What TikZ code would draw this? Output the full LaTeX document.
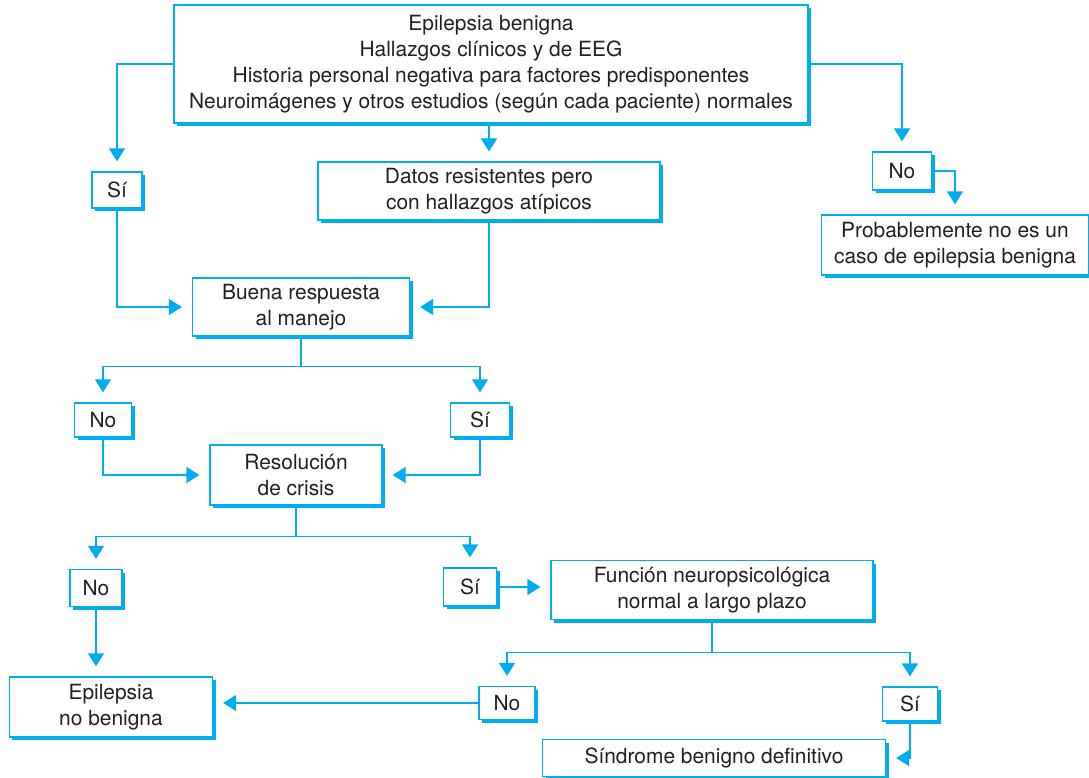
\documentclass[tikz,border=0pt]{standalone}
\usepackage{fontspec}
\setmainfont{TeX Gyre Heros}
\usetikzlibrary{arrows.meta,shadows}

\definecolor{flowcyan}{RGB}{0,174,239}
\definecolor{flowtext}{RGB}{35,31,32}

\tikzset{
  box/.style={draw=flowcyan, line width=1.3bp, fill=white, align=center,
    inner sep=0pt, text=flowtext, font=\fontsize{21}{26}\selectfont,
    drop shadow={shadow xshift=3bp, shadow yshift=-3bp, fill=flowcyan, opacity=1}},
  wire/.style={draw=flowcyan, line width=1.3bp},
  link/.style={wire, -{Triangle[width=16bp,length=13bp]}, shorten >=10bp}
}

\begin{document}
\begin{tikzpicture}[x=1bp,y=-1bp]
    \useasboundingbox (0,0) rectangle (1089,778);

    % boxes
    \node[box, minimum width=634bp, minimum height=118bp] (main) at (491,64)
      {Epilepsia benigna\\Hallazgos clínicos y de EEG\\Historia personal negativa para factores predisponentes\\Neuroimágenes y otros estudios (según cada paciente) normales};
    \node[box, minimum width=50bp, minimum height=36bp] (si1) at (117,190) {Sí};
    \node[box, minimum width=342bp, minimum height=58bp] (datos) at (489,191) {Datos resistentes pero\\con hallazgos atípicos};
    \node[box, minimum width=59bp, minimum height=38bp] (no1) at (902,171) {No};
    \node[box, minimum width=267bp, minimum height=60bp] (prob) at (955,245) {Probablemente no es un\\caso de epilepsia benigna};
    \node[box, minimum width=217bp, minimum height=58bp] (buena) at (301,307) {Buena respuesta\\al manejo};
    \node[box, minimum width=57bp, minimum height=34bp] (no2) at (103,420) {No};
    \node[box, minimum width=59bp, minimum height=34bp] (si2) at (480,420) {Sí};
    \node[box, minimum width=172bp, minimum height=60bp] (res) at (296,475) {Resolución\\de crisis};
    \node[box, minimum width=52bp, minimum height=37bp] (no3) at (96,588) {No};
    \node[box, minimum width=53bp, minimum height=38bp] (si3) at (470,587) {Sí};
    \node[box, minimum width=322bp, minimum height=59bp] (func) at (712,590) {Función neuropsicológica\\normal a largo plazo};
    \node[box, minimum width=56bp, minimum height=33bp] (no4) at (507,703) {No};
    \node[box, minimum width=55bp, minimum height=34bp] (si4) at (910,704) {Sí};
    \node[box, minimum width=203bp, minimum height=60bp] (enb) at (111,707) {Epilepsia\\no benigna};
    \node[box, minimum width=343bp, minimum height=37bp] (sind) at (714,758) {Síndrome benigno definitivo};

    % branch points
    \coordinate (b1) at ([yshift=-30bp]buena.south);
    \coordinate (b2) at ([yshift=-31bp]res.south);
    \coordinate (b3) at ([yshift=-32bp]func.south);

    % connectors
    \draw[link] (main.west) -| (si1.north);
    \draw[link] (main.south -| datos.north) -- (datos.north);
    \draw[link] (main.east) -| (no1.north);
    \draw[link] (no1.east) -| (prob.north);
    \draw[link] (si1.south) |- (buena.west);
    \draw[link] (datos.south) |- (buena.east);

    \draw[wire] (buena.south) -- (b1);
    \draw[link] (b1) -| (no2.north);
    \draw[link] (b1) -| (si2.north);
    \draw[link] (no2.south) |- (res.west);
    \draw[link] (si2.south) |- (res.east);

    \draw[wire] (res.south) -- (b2);
    \draw[link] (b2) -| (no3.north);
    \draw[link] (b2) -| (si3.north);
    \draw[link] (si3.east) -- (si3.east -| func.west);
    \draw[link] (no3.south) -- (no3.south |- enb.north);

    \draw[wire] (func.south) -- (b3);
    \draw[link] (b3) -| (no4.north);
    \draw[link] (b3) -| (si4.north);
    \draw[link] (no4.west) -- (no4.west -| enb.east);
    \draw[link] (si4.south) |- (sind.east);
\end{tikzpicture}
\end{document}
